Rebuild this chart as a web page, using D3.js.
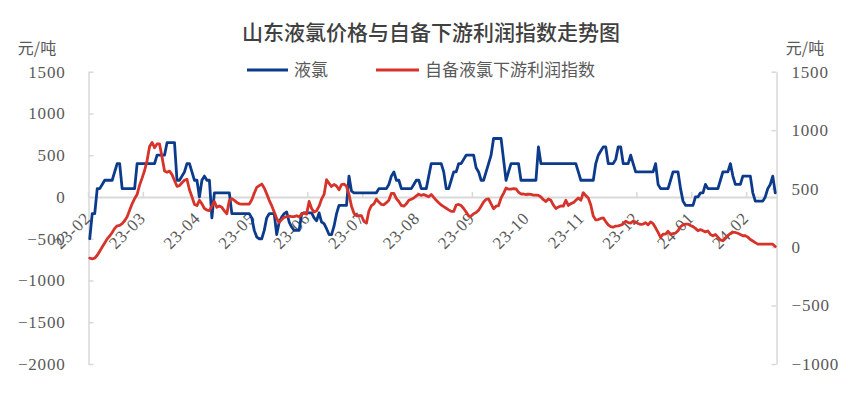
<!DOCTYPE html>
<html>
<head>
<meta charset="utf-8">
<script src="https://cdn.jsdelivr.net/npm/d3@7"></script>
<style>
  html, body { margin: 0; padding: 0; background: #ffffff; }
  svg { display: block; }
</style>
</head>
<body>
<svg id="chart" width="859" height="417"></svg>
<script>
// ---- data ----
const title = "山东液氯价格与自备下游利润指数走势图";
const seriesNames = ["液氯", "自备液氯下游利润指数"];
const unitLabel = "元/吨";
const tickLabels = ["23-02","23-03","23-04","23-05","23-06","23-07","23-08","23-09","23-10","23-11","23-12","24-01","24-02"];
const labelEvery = 22;
const leftTicks = [-2000, -1500, -1000, -500, 0, 500, 1000, 1500];
const rightTicks = [-1000, -500, 0, 500, 1000, 1500];

// 液氯 (left axis), one value per trading day
const chlorine = [
 -500,-200,-200,100,100,150,200,200,200,200,
 300,400,400,100,100,100,100,100,100,400,
 400,400,400,400,400,400,400,500,500,500,
 500,650,650,650,650,200,200,250,300,400,
 400,300,200,200,0,200,250,200,200,-250,
 50,50,50,50,50,50,50,-200,-200,-200,
 -200,-200,-200,-200,-200,-250,-400,-480,-500,-500,
 -400,-250,-200,-200,-200,-450,-300,-240,-200,-180,
 -300,-360,-400,-400,-400,-200,-190,-190,-190,-190,
 -250,-285,-190,-300,-320,-380,-450,-450,-350,-200,
 -100,-100,-100,-100,250,70,50,50,50,50,
 50,50,50,50,50,50,100,100,100,100,
 150,250,300,200,200,100,100,100,100,100,
 150,200,200,100,100,100,250,400,400,400,
 400,400,300,100,100,200,300,300,400,400,
 450,500,500,500,500,350,300,200,200,300,
 400,500,700,700,700,700,450,200,300,400,
 400,400,400,200,200,200,200,200,200,200,
 600,400,400,400,400,400,400,400,400,400,
 400,400,400,400,400,400,300,200,200,200,
 200,200,200,400,500,550,600,600,400,400,
 400,450,600,600,400,400,400,500,400,300,
 300,300,300,300,300,300,300,400,150,100,
 100,100,100,200,300,300,300,100,-50,-100,
 -100,-100,-100,0,0,50,50,150,100,100,
 100,100,100,200,300,300,300,400,250,150,
 150,150,250,250,250,250,50,-50,-50,-50,
 -50,0,100,150,250,50
];

// 自备液氯下游利润指数 (right axis)
const profitIndex = [
 -95,-100,-95,-70,-35,0,35,70,95,125,
 160,182,185,200,225,260,315,370,415,450,
 530,590,655,740,860,895,850,882,882,770,
 650,640,650,620,570,520,525,550,572,580,
 490,430,365,355,400,370,330,317,312,350,
 390,340,352,340,310,285,400,415,400,382,
 370,368,368,368,368,405,460,511,525,539,
 505,455,400,354,300,245,211,235,255,260,
 265,260,260,268,258,280,292,282,390,330,
 300,311,350,410,450,576,545,518,535,522,
 490,535,539,520,450,350,290,268,268,268,
 220,205,310,354,370,411,385,365,362,380,
 400,460,460,415,390,356,350,370,400,410,
 420,438,452,442,450,440,430,450,425,400,
 380,360,346,332,318,305,305,360,365,355,
 330,300,265,265,285,295,315,350,385,408,
 413,370,328,350,354,420,460,505,495,495,
 500,497,470,454,454,449,452,450,445,445,
 442,428,405,390,411,400,358,330,342,352,
 350,400,356,372,380,400,420,400,465,440,
 420,360,265,232,235,245,250,218,190,175,
 170,180,182,187,198,222,210,205,222,214,
 200,195,197,208,190,215,200,165,125,82,
 111,111,135,110,115,120,140,175,190,197,
 197,185,175,160,140,150,140,130,138,108,
 97,108,85,62,54,78,100,115,125,125,
 118,108,97,97,85,65,52,38,25,25,
 25,25,25,25,25,5
];

// ---- layout ----
const W = 859, H = 417;
const plot = { left: 88.5, right: 776.5, top: 71.7, bottom: 364 };
const grey = "#d9d9d9";
const textGrey = "#595959";
const blue = "#0c3b8c";
const red = "#d6332b";
const numFont = "'Liberation Serif', 'DejaVu Serif', serif";
const cjkFont = "'Noto Sans CJK SC', 'Noto Sans', sans-serif";

const svg = d3.select("#chart");

const categories = d3.range(chlorine.length);
const x = d3.scaleBand().domain(categories).range([plot.left, plot.right]).paddingInner(0).paddingOuter(0);
const cx = i => x(i) + x.bandwidth() / 2;
const yL = d3.scaleLinear().domain([-2000, 1500]).range([plot.bottom, plot.top]);
const yR = d3.scaleLinear().domain([-1000, 1500]).range([plot.bottom, plot.top]);

// title
svg.append("text")
  .attr("x", 431).attr("y", 40)
  .attr("text-anchor", "middle")
  .attr("font-family", cjkFont)
  .attr("font-size", 21)
  .attr("font-weight", 500)
  .attr("fill", "#404040")
  .text(title);

// unit labels
svg.append("text").attr("x", 37).attr("y", 54).attr("text-anchor", "middle")
  .attr("font-family", cjkFont).attr("font-size", 16).attr("fill", textGrey).text(unitLabel);
svg.append("text").attr("x", 805).attr("y", 54).attr("text-anchor", "middle")
  .attr("font-family", cjkFont).attr("font-size", 16).attr("fill", textGrey).text(unitLabel);

// legend
const legendItems = [
  { name: seriesNames[0], color: blue, x0: 247, x1: 288 },
  { name: seriesNames[1], color: red, x0: 376, x1: 419 }
];
legendItems.forEach(d => {
  svg.append("line").attr("x1", d.x0).attr("x2", d.x1).attr("y1", 70).attr("y2", 70)
    .attr("stroke", d.color).attr("stroke-width", 3);
  svg.append("text").attr("x", d.x1 + 6).attr("y", 76)
    .attr("font-family", cjkFont).attr("font-size", 17).attr("fill", textGrey).text(d.name);
});

// left axis
const gL = svg.append("g").attr("transform", `translate(${plot.left},0)`)
  .call(d3.axisLeft(yL).tickValues(leftTicks).tickSizeInner(-5).tickSizeOuter(0).tickPadding(23)
    .tickFormat(d => d < 0 ? "\u2212" + Math.abs(d) : d));
gL.select(".domain").attr("stroke", grey).attr("stroke-width", 1.5);
gL.selectAll(".tick line").attr("stroke", grey).attr("stroke-width", 1.5);
gL.selectAll(".tick text").attr("fill", textGrey).attr("font-family", numFont)
  .attr("font-size", 17).attr("letter-spacing", 0.8);

// right axis
const gR = svg.append("g").attr("transform", `translate(${plot.right},0)`)
  .call(d3.axisRight(yR).tickValues(rightTicks).tickSizeInner(-5).tickSizeOuter(0).tickPadding(15)
    .tickFormat(d => d < 0 ? "\u2212" + Math.abs(d) : d));
gR.select(".domain").attr("stroke", grey).attr("stroke-width", 1.5);
gR.selectAll(".tick line").attr("stroke", grey).attr("stroke-width", 1.5);
gR.selectAll(".tick text").attr("fill", textGrey).attr("font-family", numFont)
  .attr("font-size", 17).attr("letter-spacing", 0.8);

// category axis at y = 0 (left)
const y0 = yL(0);
const tickIdx = tickLabels.map((d, k) => k * labelEvery);
const gX = svg.append("g").attr("transform", `translate(0,${y0})`)
  .call(d3.axisBottom(x).tickValues(tickIdx).tickSizeInner(-5).tickSizeOuter(0)
    .tickFormat((d, k) => tickLabels[k]));
gX.select(".domain").attr("stroke", grey).attr("stroke-width", 2);
gX.selectAll(".tick").attr("transform", d => `translate(${x(d)},0)`);
gX.selectAll(".tick line").attr("stroke", grey).attr("stroke-width", 1.5);
gX.selectAll(".tick text")
  .attr("fill", textGrey).attr("font-family", numFont).attr("font-size", 17).attr("letter-spacing", 0.8)
  .attr("text-anchor", "end").attr("dy", "0.35em").attr("y", 0)
  .attr("transform", "translate(-1,18) rotate(-45)");

// lines
const lineL = d3.line().x((d, i) => cx(i)).y(d => yL(d)).curve(d3.curveLinear);
const lineR = d3.line().x((d, i) => cx(i)).y(d => yR(d)).curve(d3.curveLinear);

svg.append("path").datum(chlorine).attr("d", lineL)
  .attr("fill", "none").attr("stroke", blue).attr("stroke-width", 2.8)
  .attr("stroke-linejoin", "round").attr("stroke-linecap", "round");
svg.append("path").datum(profitIndex).attr("d", lineR)
  .attr("fill", "none").attr("stroke", red).attr("stroke-width", 2.8)
  .attr("stroke-linejoin", "round").attr("stroke-linecap", "round");
</script>
</body>
</html>
